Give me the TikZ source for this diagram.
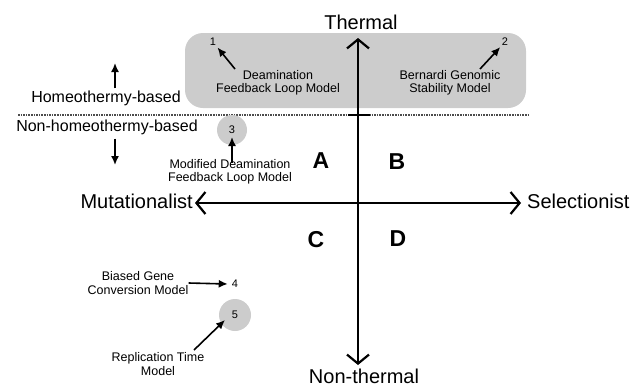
\documentclass[tikz,border=0pt]{standalone}
\usepackage{fontspec}
\setmainfont{Liberation Sans}
\usetikzlibrary{arrows.meta,positioning}

\definecolor{boxgray}{RGB}{204,204,204}

\tikzset{
  axis/.style={line width=2.2pt,{Straight Barb[length=9pt,width=22pt,line width=2.2pt]}-{Straight Barb[length=9pt,width=22pt,line width=2.2pt]}},
  pointer/.style={line width=1.6pt,-{Latex[length=9pt,width=8pt]}},
  biglabel/.style={font=\fontsize{20}{24}\selectfont,inner sep=0pt},
  sidelabel/.style={font=\fontsize{16}{19}\selectfont,inner sep=0pt},
  modeltext/.style={font=\fontsize{12.5}{13.5}\selectfont,align=center,inner sep=0pt},
  quadrant/.style={font=\fontsize{23}{26}\selectfont\bfseries,inner sep=0pt},
  numlabel/.style={font=\fontsize{11}{13}\selectfont,inner sep=1.5pt},
  modeldot/.style={circle,fill=boxgray,minimum size=#1,font=\fontsize{11}{13}\selectfont,inner sep=0pt}
}

\begin{document}
\begin{tikzpicture}[x=1pt,y=-1pt]
\useasboundingbox (0,0) rectangle (636,386);

% Homeothermy region
\fill[boxgray,rounded corners=18pt] (185,33) rectangle (526,108);
\draw[gray!60!black,line width=1.6pt,densely dotted] (18,115) -- (529,115);

% Axes
\coordinate (ytop) at (358,38);
\coordinate (ybot) at (358,365);
\coordinate (xleft) at (195,203);
\coordinate (xright) at (521,203);
\draw[axis] (ybot) -- (ytop);
\draw[axis] (xleft) -- (xright);
\draw[line width=2.2pt] (348,115) -- (370,115);

\node[biglabel] (thermal) at (361,22) {Thermal};
\node[biglabel] (nonthermal) at (364,376) {Non-thermal};
\node[biglabel,anchor=east] (mut) at (193,201) {Mutationalist};
\node[biglabel,anchor=west] (sel) at (527,201) {Selectionist};

% Quadrants
\node[quadrant] (qa) at (321,161) {A};
\node[quadrant] (qb) at (397,162) {B};
\node[quadrant] (qc) at (316,240) {C};
\node[quadrant] (qd) at (398,239) {D};

% Homeothermy labels
\node[sidelabel] (homeo) at (106,98) {Homeothermy-based};
\node[sidelabel] (nonhomeo) at (107,127) {Non-homeothermy-based};
\coordinate (upend) at (115,63);
\coordinate (downend) at (115,165);
\draw[pointer] ([yshift=2pt]homeo.north -| upend) -- (upend);
\draw[pointer] ([yshift=-4pt]nonhomeo.south -| downend) -- (downend);

% Models 1 and 2
\node[modeltext] (deam) at (278,83) {Deamination\\Feedback Loop Model};
\node[numlabel] (n1) at (213,42) {1};
\coordinate (from1) at (235,69);
\draw[pointer] (from1) -- (n1);

\node[modeltext] (bern) at (450,83) {Bernardi Genomic\\Stability Model};
\node[numlabel] (n2) at (505,42) {2};
\coordinate (from2) at (480,69);
\draw[pointer] (from2) -- (n2);

% Model 3
\node[modeldot=30pt] (c3) at (232,130) {3};
\node[modeltext] (moddeam) at (230,172) {Modified Deamination\\Feedback Loop Model};
\draw[pointer] ([yshift=-4pt]moddeam.north -| c3) -- ([yshift=-7pt]c3.center);

% Models 4 and 5
\node[modeltext] (biased) at (138,283) {Biased Gene\\Conversion Model};
\node[numlabel,inner sep=4pt] (n4) at (235,284) {4};
\draw[pointer] (biased.east) -- (n4.west);

\node[modeldot=32pt] (c5) at (235,315) {5};
\node[modeltext] (repl) at (158,364) {Replication Time\\Model};
\coordinate (from5) at (194,350);
\draw[pointer] (from5) -- ([shift={(-10pt,-5pt)}]c5.center);

\end{tikzpicture}
\end{document}
